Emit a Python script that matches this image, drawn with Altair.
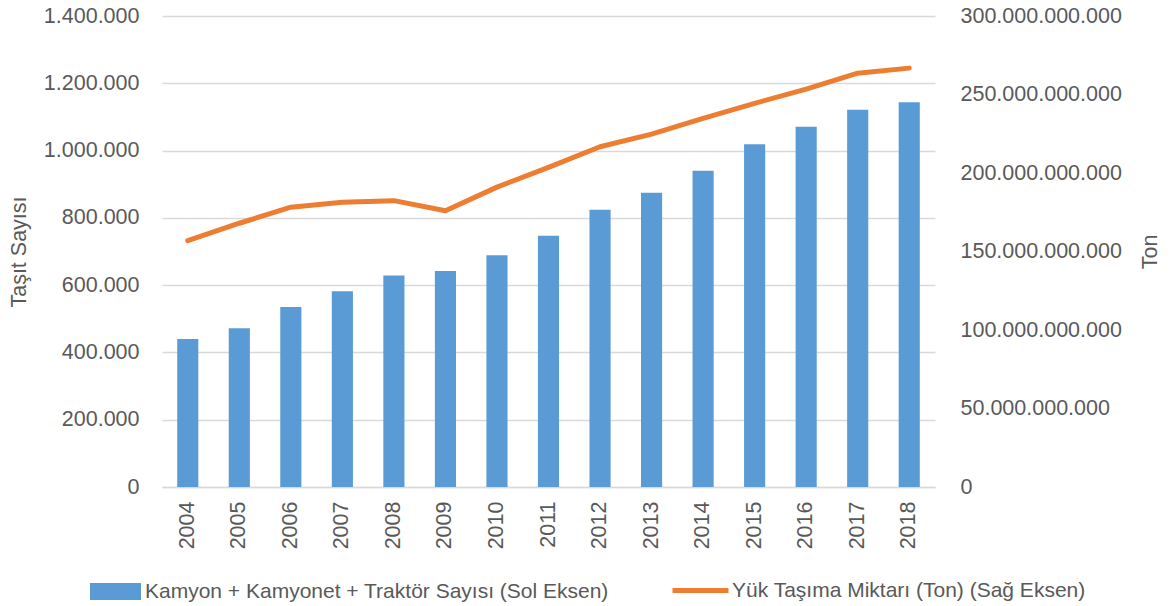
import altair as alt
import pandas as pd

years = [str(y) for y in range(2004, 2019)]
vehicles = [440000, 472000, 535000, 582000, 629000, 642000, 689000, 747000,
            824000, 875000, 940000, 1019000, 1071000, 1121000, 1144000]
tons = [156.9e9, 168.0e9, 178.2e9, 181.3e9, 182.4e9, 176.0e9, 191.0e9, 203.6e9,
        216.7e9, 224.8e9, 234.8e9, 244.4e9, 253.4e9, 263.6e9, 266.8e9]
left_ticks = [0, 200000, 400000, 600000, 800000, 1000000, 1200000, 1400000]
right_ticks = [0, 50e9, 100e9, 150e9, 200e9, 250e9, 300e9]
bar_label = "Kamyon + Kamyonet + Traktör Sayısı (Sol Eksen)"
line_label = "Yük Taşıma Miktarı (Ton) (Sağ Eksen)"

df = pd.DataFrame({"year": years, "vehicles": vehicles, "tons": tons,
                   "bs": bar_label, "ls": line_label})

FONT = "Liberation Sans"
TXT = "#595959"
FS = 21.5
LFS = 21
fmt = "replace(format(datum.value, ','), regexp(',', 'g'), '.')"

x = alt.X("year:N", sort=years,
          scale=alt.Scale(paddingInner=0.59, paddingOuter=0.295),
          axis=alt.Axis(title=None, labelAngle=-90, labelAlign="right",
                        labelBaseline="middle", labelPadding=14, ticks=False,
                        domain=True, domainColor="#D9D9D9", domainWidth=1.3,
                        labelFontSize=FS, labelColor=TXT, labelFont=FONT))

bars = alt.Chart(df).mark_bar().encode(
    x=x,
    y=alt.Y("vehicles:Q", scale=alt.Scale(domain=[0, 1400000], nice=False),
            axis=alt.Axis(orient="left", values=left_ticks, labelExpr=fmt,
                          grid=True, gridColor="#D9D9D9", gridWidth=1.3,
                          domain=False, ticks=False, labelPadding=23,
                          labelFontSize=FS, labelColor=TXT, labelFont=FONT,
                          title="Taşıt Sayısı", titleFontSize=FS,
                          titleFontWeight="normal", titleColor=TXT, titleFont=FONT,
                          titleAngle=-90, titleX=-143, titleY=235.5,
                          titleAlign="center", titleBaseline="middle")),
    fill=alt.Fill("bs:N", scale=alt.Scale(domain=[bar_label], range=["#5B9BD5"]),
                  legend=alt.Legend(title=None, orient="none", legendX=-72, legendY=550,
                                    symbolType="M-1,-0.333L1,-0.333L1,0.333L-1,0.333Z",
                                    symbolSize=2601, symbolStrokeWidth=0,
                                    labelFontSize=LFS, labelColor=TXT, labelFont=FONT,
                                    labelOffset=4, labelLimit=0)),
)

line = alt.Chart(df).mark_line(strokeWidth=5, strokeJoin="round", strokeCap="round").encode(
    x=x,
    y=alt.Y("tons:Q", scale=alt.Scale(domain=[0, 300e9], nice=False),
            axis=alt.Axis(orient="right", values=right_ticks, labelExpr=fmt,
                          grid=False, domain=False, ticks=False, labelPadding=25,
                          labelFontSize=FS, labelColor=TXT, labelFont=FONT,
                          title="Ton", titleFontSize=FS, titleFontWeight="normal",
                          titleColor=TXT, titleFont=FONT, titleAngle=-90,
                          titleX=215, titleY=235.5, titleAlign="center",
                          titleBaseline="middle")),
    stroke=alt.Stroke("ls:N", scale=alt.Scale(domain=[line_label], range=["#ED7D31"]),
                      legend=alt.Legend(title=None, orient="none", legendX=508, legendY=544,
                                        symbolType="stroke", symbolSize=3136,
                                        symbolStrokeWidth=5,
                                        labelFontSize=LFS, labelColor=TXT, labelFont=FONT,
                                        labelOffset=1, labelLimit=0)),
)

chart = alt.layer(bars, line).resolve_scale(y="independent").properties(
    width=773, height=471,
    autosize=alt.AutoSizeParams(type="none"),
    padding={"left": 154, "top": 8, "right": 225, "bottom": 118},
).configure(font=FONT, background="white").configure_view(stroke=None)

chart.save("out.html", embed_options={"renderer": "svg", "actions": False})
